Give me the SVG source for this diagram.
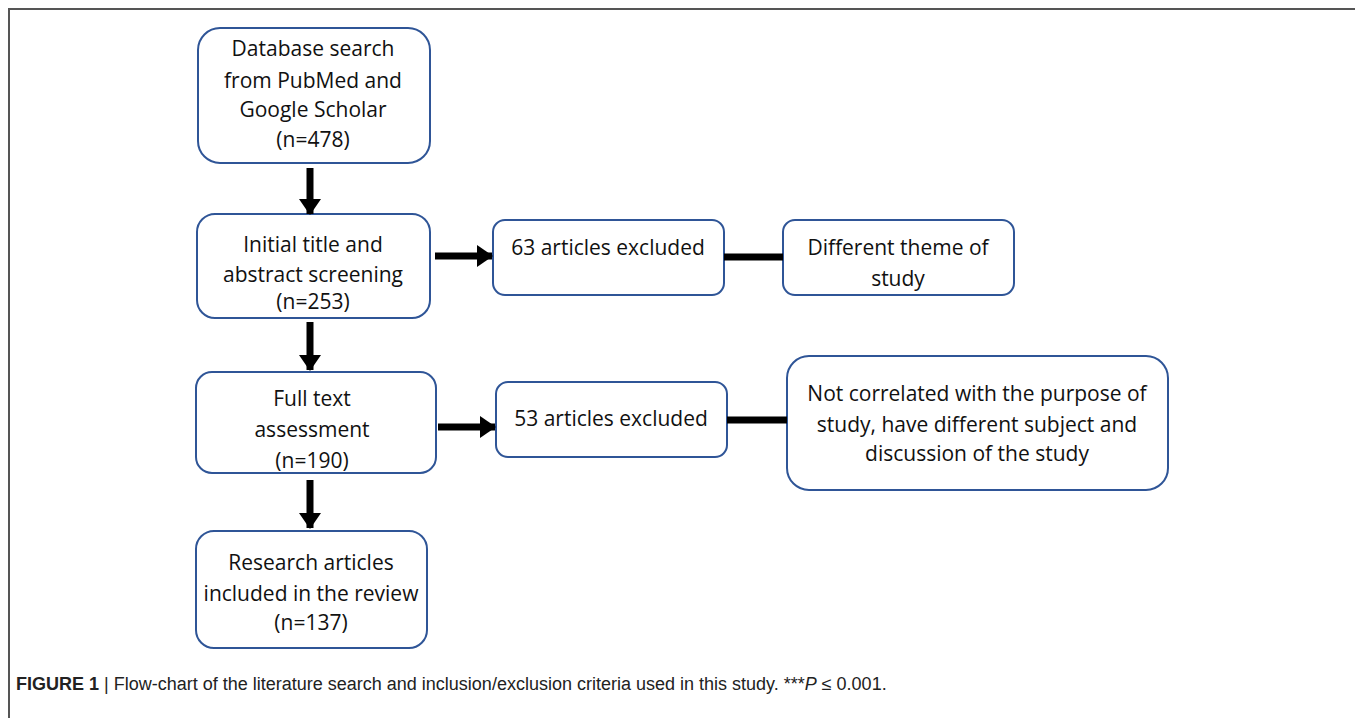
<svg xmlns="http://www.w3.org/2000/svg" width="1355" height="718" viewBox="0 0 1355 718">
<style>
.box{fill:#fff;stroke:#2f5597;stroke-width:2}
.t{font-family:"Open Sans","Noto Sans",sans-serif;font-size:21px;fill:#111;text-anchor:middle}
.c{font-family:"Liberation Sans",Arial,sans-serif;font-size:18px;fill:#222}
.ln{stroke:#000;stroke-width:7}
</style>
<defs>
<marker id="ah" markerUnits="userSpaceOnUse" markerWidth="16" markerHeight="22" refX="15" refY="11" orient="auto">
<path d="M0,0 L16,11 L0,22 Z" fill="#000"/>
</marker>
</defs>
<rect width="1355" height="718" fill="#fff"/>
<path d="M1355,9 H9 V718" fill="none" stroke="#555" stroke-width="2"/>
<g id="n1"><rect class="box" x="198" y="28" width="232" height="135" rx="22"/>
<text class="t" x="313" y="56">Database search</text>
<text class="t" x="313" y="88">from PubMed and</text>
<text class="t" x="313" y="117">Google Scholar</text>
<text class="t" x="313" y="147">(n=478)</text></g>
<g id="n2"><rect class="box" x="197" y="214" width="233" height="104" rx="18"/>
<text class="t" x="313" y="252">Initial title and</text>
<text class="t" x="313" y="282">abstract screening</text>
<text class="t" x="313" y="309">(n=253)</text></g>
<g id="n3"><rect class="box" x="493" y="220" width="231" height="75" rx="12"/>
<text class="t" x="608" y="255">63 articles excluded</text></g>
<g id="n4"><rect class="box" x="783" y="220" width="231" height="75" rx="12"/>
<text class="t" x="898" y="255">Different theme of</text>
<text class="t" x="898" y="286">study</text></g>
<g id="n5"><rect class="box" x="196" y="372" width="240" height="101" rx="16"/>
<text class="t" x="312" y="406">Full text</text>
<text class="t" x="312" y="437">assessment</text>
<text class="t" x="312" y="468">(n=190)</text></g>
<g id="n6"><rect class="box" x="496" y="382" width="231" height="75" rx="12"/>
<text class="t" x="611" y="426">53 articles excluded</text></g>
<g id="n7"><rect class="box" x="787" y="356" width="381" height="134" rx="22"/>
<text class="t" x="977" y="401">Not correlated with the purpose of</text>
<text class="t" x="977" y="432">study, have different subject and</text>
<text class="t" x="977" y="461">discussion of the study</text></g>
<g id="n8"><rect class="box" x="196" y="531" width="231" height="117" rx="18"/>
<text class="t" x="311" y="570">Research articles</text>
<text class="t" x="311" y="601">included in the review</text>
<text class="t" x="311" y="630">(n=137)</text></g>
<g id="connectors">
<line class="ln" x1="310" y1="168" x2="310" y2="214" marker-end="url(#ah)"/>
<line class="ln" x1="310" y1="322" x2="310" y2="370" marker-end="url(#ah)"/>
<line class="ln" x1="310" y1="480" x2="310" y2="528" marker-end="url(#ah)"/>
<line class="ln" x1="435" y1="256" x2="492" y2="256" marker-end="url(#ah)"/>
<line class="ln" x1="438" y1="427" x2="495" y2="427" marker-end="url(#ah)"/>
<line class="ln" x1="724" y1="257" x2="783" y2="257"/>
<line class="ln" x1="727" y1="420" x2="787" y2="420"/>
</g>
<text class="c" x="16" y="690"><tspan font-weight="bold">FIGURE 1</tspan> | Flow-chart of the literature search and inclusion/exclusion criteria used in this study. ***<tspan font-style="italic">P</tspan> ≤ 0.001.</text>
</svg>
